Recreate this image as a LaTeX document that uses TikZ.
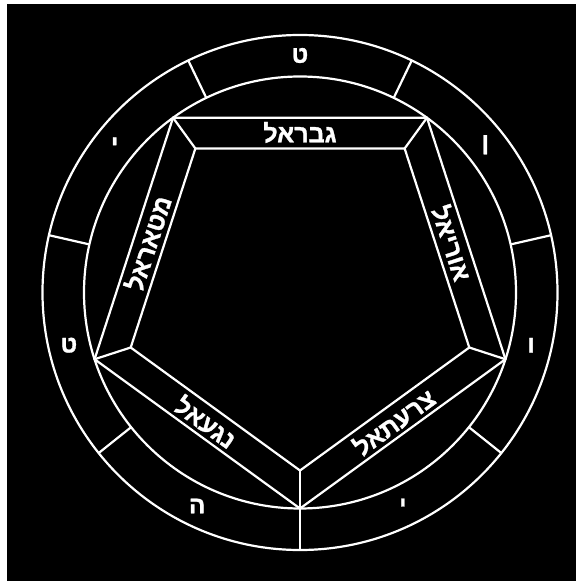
\documentclass[tikz,border=0pt]{standalone}
\usepackage{fontspec}
\newfontfamily\hebfont[Script=Hebrew, FakeBold=1.2]{Liberation Sans Bold}
\TeXXeTstate=1
\usetikzlibrary{calc}

\begin{document}
\begin{tikzpicture}[x=1pt, y=1pt,
  ring/.style={draw=white, line width=2.2pt},
  bandname/.style={text=white, inner sep=0pt, font=\hebfont\fontsize{25}{25}\selectfont},
  ringletter/.style={text=white, inner sep=0pt, font=\hebfont\fontsize{24}{24}\selectfont}]
  % page and black ground
  \useasboundingbox (-300,-292.5) rectangle (282,292.5);
  \fill[black] (-293,-288.5) rectangle (276,288.5);
  % outer ring: two circles
  \draw[ring] (0,0) circle (257.5);
  \draw[ring] (0,0) circle (216);
  % pentagon band: outer and inner edge
  \draw[ring] (126:216) -- (54:216) -- (-18:216) -- (-90:216) -- (198:216) -- cycle;
  \draw[ring] (126:178) -- (54:178) -- (-18:178) -- (-90:178) -- (198:178) -- cycle;
  % corners of the band
  \foreach \a in {126,54,-18,198} \draw[ring] (\a:178) -- (\a:216);
  \draw[ring] (-90:178) -- (-90:257.5);
  % seven fields of the ring
  \foreach \k in {1,...,6} \draw[ring] (-90+\k*360/7:216) -- (-90+\k*360/7:257.5);
  % letters in the ring
  \node[ringletter] (tet1) at (90:237) {ט};
  \node[ringletter] (nun) at (90-360/7:237) {ן};
  \node[ringletter] (vav) at (90-720/7:237) {ו};
  \node[ringletter] (yod1) at (90-1080/7:237) {י};
  \node[ringletter] (he) at (90+1080/7:237) {ה};
  \node[ringletter] (tet2) at (90+720/7:237) {ט};
  \node[ringletter] (yod2) at (90+360/7:237) {י};
  % names on the band
  \node[bandname] (gabrael) at (90:160) {\beginR גבראל\endR};
  \node[bandname, rotate=72] (leftname) at (162:160) {\beginR מטאראל\endR};
  \node[bandname, rotate=-72] (rightname) at (18:160) {\beginR אוריאל\endR};
  \node[bandname, rotate=-36] (nagael) at (234:160) {\beginR נגעאל\endR};
  \node[bandname, rotate=36] (tsarael) at (-54:160) {\beginR צרעתאל\endR};
\end{tikzpicture}
\end{document}
